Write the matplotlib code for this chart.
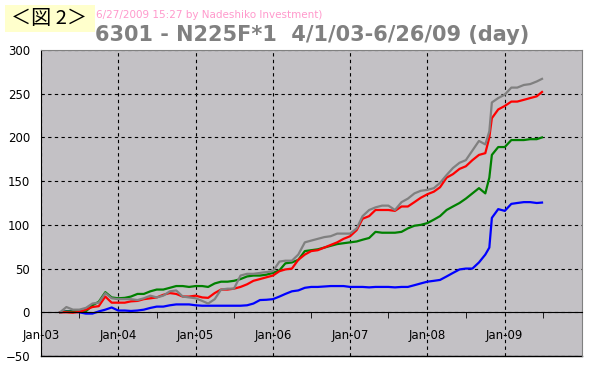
import pandas as pd
import matplotlib
matplotlib.use("Agg")
from matplotlib import pyplot as plt
import matplotlib.dates as mdates
from matplotlib.patches import Rectangle

plt.rcParams['font.family'] = ['DejaVu Sans', 'Noto Sans CJK JP']

# month-start sample dates, plus one mid-October 2008 point and the last day
dates = list(pd.date_range('2003-04-01', '2009-06-01', freq='MS'))
dates.insert(dates.index(pd.Timestamp('2008-11-01')), pd.Timestamp('2008-10-20'))
dates.append(pd.Timestamp('2009-06-26'))

blue = [0, 1, 1, 0, -1.5, -1.5, 1, 3, 5.5,
        2, 2, 1.5, 2, 3, 5, 6.5, 6.5, 8, 9, 9, 9,
        8, 7.5, 7.5, 7.5, 7.5, 7.5, 7.5, 7.5, 8, 10, 14, 14.3,
        15, 18, 21, 24, 25, 28, 29, 29, 29.5, 30, 30, 30,
        29, 29, 29, 28.5, 29, 29, 29, 28.5, 29, 29, 31, 33,
        35, 36, 37, 41, 45, 49, 50, 50, 57, 66, 74, 108, 118,
        116, 124, 125, 126, 126, 125, 125.5]

green = [0, 1, 1, 1, 1, 8, 12, 23, 17,
         16, 16.5, 18, 21, 21, 24, 26, 26, 28, 30, 30, 29,
         30, 30, 29, 33, 35, 35, 36, 38, 41, 42, 42, 43,
         45, 48, 56, 57, 60, 70, 71, 72, 74, 76, 78, 79,
         80, 81, 83, 85, 92, 91, 91, 91, 92, 96, 99, 100,
         102, 106, 110, 117, 121, 125, 130, 136, 142, 136, 154, 180, 189,
         189, 197, 197, 197, 198, 198, 200]

red = [0, 0, -0.5, 0.5, 3, 6, 7, 18, 11,
       11, 11, 12.5, 13, 15, 16, 17, 20, 22, 21, 18, 18,
       19, 17, 16.5, 22, 26, 26, 27, 29, 32, 36, 38, 40,
       42, 47, 49, 50, 60, 66, 70, 71, 74, 77, 80, 84,
       87, 94, 107, 110, 117, 117, 117, 116, 121, 121, 126, 131,
       135, 138, 143, 154, 158, 164, 167, 174, 180, 182, 200, 222, 232,
       236, 241, 241, 243, 245, 247, 252]

gray = [0, 6, 3, 3, 5, 10, 11, 22, 16,
        15, 15, 15, 14, 16, 19, 17, 19, 24, 25, 18, 17,
        16, 13, 10, 15, 26, 27, 27, 42, 44, 44, 45, 46,
        47, 58, 59, 59, 66, 80, 82, 84, 86, 87, 90, 90,
        90, 96, 110, 117, 120, 122, 122, 117, 126, 130, 136, 139,
        140, 142, 148, 157, 165, 171, 174, 185, 196, 192, 207, 240, 245,
        249, 257, 257, 260, 261, 264, 267]

year_ticks = [pd.Timestamp(f'{y}-01-01') for y in range(2003, 2010)]

fig = plt.figure(figsize=(6.13, 3.70), dpi=100)
fig.patch.set_facecolor('white')
ax = fig.add_axes([41 / 613, 14 / 370, 541 / 613, 306 / 370])
ax.set_facecolor('#c3c1c5')

ax.plot(dates, blue, color='#0000ff', lw=1.6)
ax.plot(dates, green, color='#008000', lw=1.6)
ax.plot(dates, red, color='#ff0000', lw=1.6)
ax.plot(dates, gray, color='#808080', lw=1.6)

ax.set_xlim(pd.Timestamp('2003-01-01'), pd.Timestamp('2010-01-01'))
ax.set_ylim(-50, 300)
ax.set_yticks(range(-50, 301, 50))
ax.set_xticks(year_ticks)
ax.xaxis.set_major_formatter(mdates.DateFormatter('%b-%y'))
ax.xaxis.set_minor_locator(mdates.MonthLocator(bymonth=7))

ax.set_axisbelow(True)
ax.grid(True, which='major', color='black', lw=0.8, linestyle=(0, (3, 3)))

ax.spines['bottom'].set_position(('data', 0))
ax.spines['bottom'].set_color('black')
ax.spines['left'].set_color('black')
ax.spines['top'].set_color('#808080')
ax.spines['right'].set_color('#808080')
ax.axhline(-50, color='black', lw=1, clip_on=False)

ax.tick_params(axis='y', length=0, pad=8, labelsize=8.5)
ax.tick_params(axis='x', which='major', length=0, pad=12, labelsize=8.5)
ax.tick_params(axis='x', which='minor', length=4, direction='out', color='black')

fig.text(312 / 613, 1 - 35 / 370, '6301 - N225F*1  4/1/03-6/26/09 (day)',
         ha='center', va='center', fontsize=15, fontweight='bold', color='#808080')
fig.text(96 / 613, 1 - 15 / 370, '6/27/2009 15:27 by Nadeshiko Investment)',
         ha='left', va='center', fontsize=7.5, color='#ff99cc')

fig.patches.append(Rectangle((5 / 613, 1 - 32 / 370), 90 / 613, 27 / 370,
                             transform=fig.transFigure, facecolor='#ffffcc',
                             edgecolor='none', zorder=0))
fig.text(49 / 613, 1 - 19 / 370, '＜図 2＞', ha='center', va='center',
         fontsize=14.5, color='black', family=['Noto Sans CJK JP', 'DejaVu Sans'])

fig.savefig('out.png', dpi=100)
